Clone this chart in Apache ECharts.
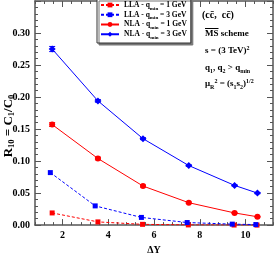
<!DOCTYPE html>
<html><head><meta charset="utf-8">
<script src="https://cdn.jsdelivr.net/npm/echarts@6/dist/echarts.min.js"></script>
<style>html,body{margin:0;padding:0;background:#fff}#c{width:274px;height:260px}</style>
</head><body><div id="c"></div>
<script>
// ---- data ----
const xNLA  = [1.55, 3.55, 5.52, 7.52, 9.52, 10.52];
const xLLA1 = [1.55, 3.55, 5.50, 7.50, 9.50, 10.50];
const xLLA3 = [1.47, 3.43, 5.45, 7.45, 9.42, 10.45];
const lla1 = [0.019, 0.005, 0.0012, 0.0003, 0.0001, 0.00003];
const lla3 = [0.082, 0.030, 0.012, 0.004, 0.0015, 0.0008];
const nla1 = [0.157, 0.104, 0.061, 0.035, 0.019, 0.013];
const nla3 = [0.275, 0.194, 0.135, 0.093, 0.062, 0.050];
const nla1Err = [0.003, 0.002, 0.0015, 0.001, 0.0008, 0.0006];
const nla3Err = [0.004, 0.002, 0.0015, 0.0012, 0.001, 0.001];
const xTicks = [2, 4, 6, 8, 10];
const yTicks = [0, 0.05, 0.10, 0.15, 0.20, 0.25, 0.30];
const seriesNames = ['LLA1', 'LLA3', 'NLA1', 'NLA3'];

const RED = '#ff0000', BLUE = '#0000ff';
const FF = '"Liberation Serif", serif';
const AX = '#555';

function pairs(xs, ys) { return xs.map((x, i) => [x, ys[i]]); }
function errPairs(xs, ys, es) { return xs.map((x, i) => [x, ys[i], es[i]]); }

const minorX = (pos) => ({
  type: 'value', gridIndex: 0, position: pos, min: 0.8, max: 11.2, interval: 0.4,
  axisLine: { show: true, lineStyle: { color: AX, width: 1.5 } },
  axisTick: { show: true, inside: true, length: 3, lineStyle: { color: AX, width: 1 } },
  axisLabel: { show: false }, splitLine: { show: false }
});
const majorX = (pos) => ({
  type: 'value', gridIndex: 0, position: pos, min: 0.8, max: 11.2,
  axisLine: { show: false },
  axisTick: { show: true, inside: true, length: 6, customValues: xTicks, lineStyle: { color: AX, width: 1 } },
  axisLabel: { show: pos === 'bottom', customValues: xTicks, margin: 5, fontFamily: FF, fontWeight: 'bold', fontSize: 10, color: '#000' },
  splitLine: { show: false },
  name: pos === 'bottom' ? 'ΔY' : '', nameLocation: 'middle', nameGap: 16,
  nameTextStyle: { fontFamily: FF, fontWeight: 'bold', fontSize: 10, color: '#000' }
});
const yAx = (pos, labels) => ({
  type: 'value', position: pos, min: 0, max: 0.35, interval: 0.05,
  axisLine: { show: true, lineStyle: { color: AX, width: 1.5 } },
  axisTick: { show: true, inside: true, length: 6, lineStyle: { color: AX, width: 1 } },
  minorTick: { show: true, splitNumber: 5, length: 3, lineStyle: { color: AX, width: 1 } },
  axisLabel: { show: labels, showMaxLabel: false, margin: 5, fontFamily: FF, fontWeight: 'bold', fontSize: 10, color: '#000',
    formatter: v => yTicks.some(t => Math.abs(t - v) < 1e-9) ? v.toFixed(2) : '' },
  splitLine: { show: false }
});

function errSeries(data, color) {
  return {
    type: 'custom', xAxisIndex: 0, yAxisIndex: 0, data: data, z: 3, silent: true,
    renderItem: (params, api) => {
      const x = api.value(0), y = api.value(1), e = api.value(2);
      const lo = api.coord([x, y - e]), hi = api.coord([x, y + e]);
      const st = { stroke: color, lineWidth: 1 };
      return { type: 'group', children: [
        { type: 'line', shape: { x1: lo[0], y1: lo[1], x2: hi[0], y2: hi[1] }, style: st },
        { type: 'line', shape: { x1: lo[0] - 3, y1: lo[1], x2: lo[0] + 3, y2: lo[1] }, style: st },
        { type: 'line', shape: { x1: hi[0] - 3, y1: hi[1], x2: hi[0] + 3, y2: hi[1] }, style: st }
      ]};
    }
  };
}

const chart = echarts.init(document.getElementById('c'), null, { renderer: 'canvas' });
const rich = {
  t: { fontFamily: FF, fontWeight: 'bold', fontSize: 9, lineHeight: 12, verticalAlign: 'middle', color: '#000' },
  c: { fontFamily: FF, fontWeight: 'bold', fontSize: 10, lineHeight: 12, verticalAlign: 'middle', color: '#000' },
  s: { fontFamily: FF, fontWeight: 'bold', fontSize: 6, lineHeight: 5, verticalAlign: 'bottom', color: '#000' },
  u: { fontFamily: FF, fontWeight: 'bold', fontSize: 6, lineHeight: 5, verticalAlign: 'top', color: '#000' }
};
chart.setOption({
  animation: false,
  grid: { left: 35, right: 1, top: 1, bottom: 21, containLabel: false },
  xAxis: [minorX('bottom'), majorX('bottom'), minorX('top'), majorX('top')],
  yAxis: [yAx('left', true), yAx('right', false)],
  legend: {
    orient: 'vertical', left: 97, top: -1, padding: [2, 4, 3, 3], itemGap: 0,
    itemWidth: 18, itemHeight: 6,
    backgroundColor: '#fff', borderColor: '#333', borderWidth: 1,
    shadowColor: '#777', shadowOffsetX: 2, shadowOffsetY: 2, shadowBlur: 0,
    data: seriesNames,
    formatter: n => `{t|${n.slice(0, 3)} - q}{s|min}{t| = ${n.slice(3)} GeV}`,
    textStyle: { color: '#000', rich: {
      t: { fontFamily: FF, fontWeight: 'bold', fontSize: 7.5, lineHeight: 11.5, verticalAlign: 'middle' },
      s: { fontFamily: FF, fontWeight: 'bold', fontSize: 5, lineHeight: 4, verticalAlign: 'bottom' }
    } }
  },
  series: [
    { name: 'LLA1', type: 'line', data: pairs(xLLA1, lla1), xAxisIndex: 0, yAxisIndex: 0, symbol: 'rect', symbolSize: 5,
      itemStyle: { color: RED }, lineStyle: { color: RED, width: 1, type: [3, 2] }, z: 2 },
    { name: 'LLA3', type: 'line', data: pairs(xLLA3, lla3), xAxisIndex: 0, yAxisIndex: 0, symbol: 'rect', symbolSize: 5,
      itemStyle: { color: BLUE }, lineStyle: { color: BLUE, width: 1, type: [3, 2] }, z: 2 },
    { name: 'NLA1', type: 'line', data: pairs(xNLA, nla1), xAxisIndex: 0, yAxisIndex: 0, symbol: 'circle', symbolSize: 6,
      itemStyle: { color: RED }, lineStyle: { color: RED, width: 1 }, z: 2 },
    { name: 'NLA3', type: 'line', data: pairs(xNLA, nla3), xAxisIndex: 0, yAxisIndex: 0, symbol: 'diamond', symbolSize: 7,
      itemStyle: { color: BLUE }, lineStyle: { color: BLUE, width: 1 }, z: 2 },
    errSeries(errPairs(xNLA, nla1, nla1Err), RED),
    errSeries(errPairs(xNLA, nla3, nla3Err), BLUE)
  ],
  graphic: [
    { type: 'text', x: 9, y: 126, rotation: Math.PI / 2, style: {
        text: '{t|R}{s|10}{t| = C}{s|1}{t|/C}{s|0}', align: 'center', verticalAlign: 'middle',
        rich: {
          t: { fontFamily: FF, fontWeight: 'bold', fontSize: 13, lineHeight: 15, verticalAlign: 'middle', color: '#000' },
          s: { fontFamily: FF, fontWeight: 'bold', fontSize: 8.5, lineHeight: 6, verticalAlign: 'bottom', color: '#000' }
        } } },
    { type: 'text', x: 202, y: 15, style: { text: '{c|(cc\u0304,  cc\u0304)}', verticalAlign: 'middle', rich: rich } },
    { type: 'text', x: 205, y: 34, style: { text: '{t|MS scheme}', verticalAlign: 'middle', rich: rich } },
    { type: 'line', shape: { x1: 205, y1: 28.5, x2: 218.5, y2: 28.5 }, style: { stroke: '#000', lineWidth: 1 } },
    { type: 'text', x: 205, y: 51, style: { text: '{t|s = (3 TeV)}{u|2}', verticalAlign: 'middle', rich: rich } },
    { type: 'text', x: 205, y: 68, style: { text: '{t|q}{s|1}{t|, q}{s|2}{t| > q}{s|min}', verticalAlign: 'middle', rich: rich } },
    { type: 'text', x: 205, y: 84, style: { text: '{t|μ}{s|R}{u|2}{t| = (s}{s|1}{t|s}{s|2}{t|)}{u|1/2}', verticalAlign: 'middle', rich: rich } }
  ]
});
</script></body></html>
